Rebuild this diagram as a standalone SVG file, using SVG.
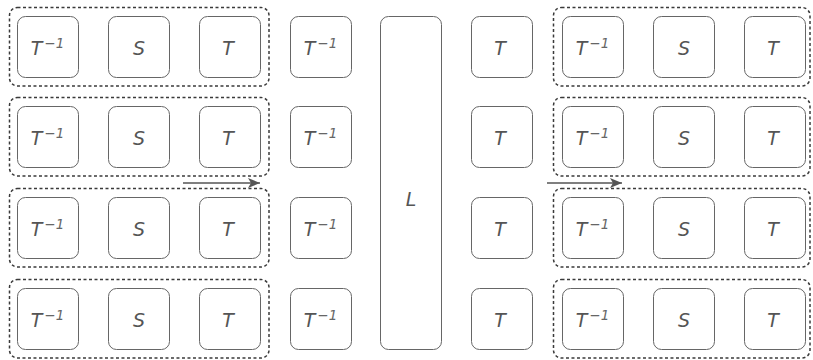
<svg xmlns="http://www.w3.org/2000/svg" width="813" height="360" viewBox="0 0 813 360">
<style>
.node{fill:#fff;stroke:#666;stroke-width:1}
.grp{fill:none;stroke:#3a3a3a;stroke-width:1.5;stroke-dasharray:3 2.5}
.lbl{font-family:"DejaVu Sans",sans-serif;font-style:italic;font-size:19px;fill:#555;text-anchor:middle}
.sup{font-size:13.5px;fill:#666}
.arr{stroke:#555;stroke-width:1.6;fill:none}
</style>
<defs>
<marker id="ah" markerUnits="userSpaceOnUse" markerWidth="14" markerHeight="12" refX="12" refY="6" orient="auto">
<path d="M0,1 L12,6 L0,11 L3,6 Z" fill="#555"/>
</marker>
</defs>
<rect width="813" height="360" fill="#fff"/>
<g id="groups">
<rect id="g1l" class="grp" x="9.5" y="7.5" width="259.5" height="78.5" rx="8"/>
<rect id="g2l" class="grp" x="9.5" y="97.5" width="259.5" height="78.5" rx="8"/>
<rect id="g3l" class="grp" x="9.5" y="188.5" width="259.5" height="78.5" rx="8"/>
<rect id="g4l" class="grp" x="9.5" y="279.5" width="259.5" height="78.5" rx="8"/>
<rect id="g1r" class="grp" x="553.5" y="7.5" width="256.5" height="78.5" rx="8"/>
<rect id="g2r" class="grp" x="553.5" y="97.5" width="256.5" height="78.5" rx="8"/>
<rect id="g3r" class="grp" x="553.5" y="188.5" width="256.5" height="78.5" rx="8"/>
<rect id="g4r" class="grp" x="553.5" y="279.5" width="256.5" height="78.5" rx="8"/>
</g>
<g id="connectors">
<line class="arr" x1="183" y1="183" x2="260" y2="183" marker-end="url(#ah)"/>
<line class="arr" x1="547" y1="183" x2="622" y2="183" marker-end="url(#ah)"/>
</g>
<g id="L">
<rect class="node" x="380.5" y="16.5" width="61" height="333" rx="8"/>
<text class="lbl" x="411" y="206">L</text>
</g>
<!-- row 1 -->
<g id="r1c1"><rect class="node" x="17.5" y="16.5" width="61" height="61" rx="8"/><text class="lbl" x="47.5" y="55">T<tspan class="sup" dx="2" dy="-7">−1</tspan></text></g>
<g id="r1c2"><rect class="node" x="108.5" y="16.5" width="61" height="61" rx="8"/><text class="lbl" x="139" y="55">S</text></g>
<g id="r1c3"><rect class="node" x="199.5" y="16.5" width="61" height="61" rx="8"/><text class="lbl" x="228" y="55">T</text></g>
<g id="r1c4"><rect class="node" x="290.5" y="16.5" width="61" height="61" rx="8"/><text class="lbl" x="320.5" y="55">T<tspan class="sup" dx="2" dy="-7">−1</tspan></text></g>
<g id="r1c6"><rect class="node" x="471.5" y="16.5" width="61" height="61" rx="8"/><text class="lbl" x="500" y="55">T</text></g>
<g id="r1c7"><rect class="node" x="562.5" y="16.5" width="61" height="61" rx="8"/><text class="lbl" x="592.5" y="55">T<tspan class="sup" dx="2" dy="-7">−1</tspan></text></g>
<g id="r1c8"><rect class="node" x="653.5" y="16.5" width="61" height="61" rx="8"/><text class="lbl" x="684" y="55">S</text></g>
<g id="r1c9"><rect class="node" x="744.5" y="16.5" width="61" height="61" rx="8"/><text class="lbl" x="773" y="55">T</text></g>
<!-- row 2 -->
<g id="r2c1"><rect class="node" x="17.5" y="106.5" width="61" height="61" rx="8"/><text class="lbl" x="47.5" y="145">T<tspan class="sup" dx="2" dy="-7">−1</tspan></text></g>
<g id="r2c2"><rect class="node" x="108.5" y="106.5" width="61" height="61" rx="8"/><text class="lbl" x="139" y="145">S</text></g>
<g id="r2c3"><rect class="node" x="199.5" y="106.5" width="61" height="61" rx="8"/><text class="lbl" x="228" y="145">T</text></g>
<g id="r2c4"><rect class="node" x="290.5" y="106.5" width="61" height="61" rx="8"/><text class="lbl" x="320.5" y="145">T<tspan class="sup" dx="2" dy="-7">−1</tspan></text></g>
<g id="r2c6"><rect class="node" x="471.5" y="106.5" width="61" height="61" rx="8"/><text class="lbl" x="500" y="145">T</text></g>
<g id="r2c7"><rect class="node" x="562.5" y="106.5" width="61" height="61" rx="8"/><text class="lbl" x="592.5" y="145">T<tspan class="sup" dx="2" dy="-7">−1</tspan></text></g>
<g id="r2c8"><rect class="node" x="653.5" y="106.5" width="61" height="61" rx="8"/><text class="lbl" x="684" y="145">S</text></g>
<g id="r2c9"><rect class="node" x="744.5" y="106.5" width="61" height="61" rx="8"/><text class="lbl" x="773" y="145">T</text></g>
<!-- row 3 -->
<g id="r3c1"><rect class="node" x="17.5" y="197.5" width="61" height="61" rx="8"/><text class="lbl" x="47.5" y="236">T<tspan class="sup" dx="2" dy="-7">−1</tspan></text></g>
<g id="r3c2"><rect class="node" x="108.5" y="197.5" width="61" height="61" rx="8"/><text class="lbl" x="139" y="236">S</text></g>
<g id="r3c3"><rect class="node" x="199.5" y="197.5" width="61" height="61" rx="8"/><text class="lbl" x="228" y="236">T</text></g>
<g id="r3c4"><rect class="node" x="290.5" y="197.5" width="61" height="61" rx="8"/><text class="lbl" x="320.5" y="236">T<tspan class="sup" dx="2" dy="-7">−1</tspan></text></g>
<g id="r3c6"><rect class="node" x="471.5" y="197.5" width="61" height="61" rx="8"/><text class="lbl" x="500" y="236">T</text></g>
<g id="r3c7"><rect class="node" x="562.5" y="197.5" width="61" height="61" rx="8"/><text class="lbl" x="592.5" y="236">T<tspan class="sup" dx="2" dy="-7">−1</tspan></text></g>
<g id="r3c8"><rect class="node" x="653.5" y="197.5" width="61" height="61" rx="8"/><text class="lbl" x="684" y="236">S</text></g>
<g id="r3c9"><rect class="node" x="744.5" y="197.5" width="61" height="61" rx="8"/><text class="lbl" x="773" y="236">T</text></g>
<!-- row 4 -->
<g id="r4c1"><rect class="node" x="17.5" y="288.5" width="61" height="61" rx="8"/><text class="lbl" x="47.5" y="327">T<tspan class="sup" dx="2" dy="-7">−1</tspan></text></g>
<g id="r4c2"><rect class="node" x="108.5" y="288.5" width="61" height="61" rx="8"/><text class="lbl" x="139" y="327">S</text></g>
<g id="r4c3"><rect class="node" x="199.5" y="288.5" width="61" height="61" rx="8"/><text class="lbl" x="228" y="327">T</text></g>
<g id="r4c4"><rect class="node" x="290.5" y="288.5" width="61" height="61" rx="8"/><text class="lbl" x="320.5" y="327">T<tspan class="sup" dx="2" dy="-7">−1</tspan></text></g>
<g id="r4c6"><rect class="node" x="471.5" y="288.5" width="61" height="61" rx="8"/><text class="lbl" x="500" y="327">T</text></g>
<g id="r4c7"><rect class="node" x="562.5" y="288.5" width="61" height="61" rx="8"/><text class="lbl" x="592.5" y="327">T<tspan class="sup" dx="2" dy="-7">−1</tspan></text></g>
<g id="r4c8"><rect class="node" x="653.5" y="288.5" width="61" height="61" rx="8"/><text class="lbl" x="684" y="327">S</text></g>
<g id="r4c9"><rect class="node" x="744.5" y="288.5" width="61" height="61" rx="8"/><text class="lbl" x="773" y="327">T</text></g>
</svg>
